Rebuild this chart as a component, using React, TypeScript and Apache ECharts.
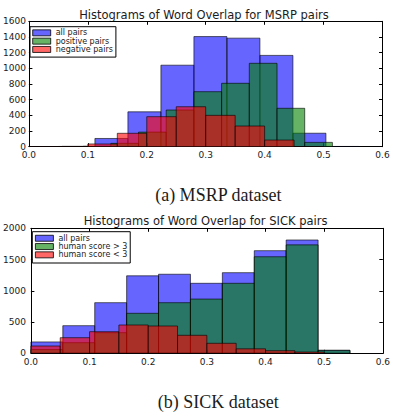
import React, { useEffect, useRef } from "react";
import * as echarts from "echarts";

// MSRP: word-overlap histograms (bin edges + counts per bin)
const msrpAllEdges = [0, 0.056, 0.112, 0.168, 0.224, 0.28, 0.336, 0.392, 0.448, 0.504, 0.56];
const msrpAllCounts = [2, 4, 105, 445, 1040, 1405, 1385, 1165, 172, 3];
const msrpPosEdges = [0.045, 0.092, 0.139, 0.186, 0.233, 0.28, 0.327, 0.374, 0.421, 0.468, 0.515];
const msrpPosCounts = [1, 5, 43, 186, 468, 702, 809, 1064, 490, 55];
const msrpNegEdges = [0, 0.05, 0.1, 0.15, 0.2, 0.25, 0.3, 0.35, 0.4, 0.45, 0.5];
const msrpNegCounts = [1, 3, 35, 171, 383, 510, 400, 264, 85, 2];

// SICK: word-overlap histograms
const sickAllEdges = [0, 0.0544, 0.1088, 0.1632, 0.2176, 0.272, 0.3264, 0.3808, 0.4352, 0.4896, 0.544];
const sickAllCounts = [182, 442, 810, 1240, 1265, 1120, 1290, 1642, 1813, 50];
const sickHighEdges = [0, 0.0544, 0.1088, 0.1632, 0.2176, 0.272, 0.3264, 0.3808, 0.4352, 0.4896, 0.544];
const sickHighCounts = [60, 170, 330, 640, 810, 868, 1120, 1545, 1735, 45];
const sickLowEdges = [0, 0.05, 0.1, 0.15, 0.2, 0.25, 0.3, 0.35, 0.4, 0.45, 0.5];
const sickLowCounts = [117, 250, 346, 453, 437, 288, 160, 72, 42, 21];

const msrpLegend = ["all pairs", "positive pairs", "negative pairs"];
const sickLegend = ["all pairs", "human score > 3", "human score < 3"];

const msrpTitle = "Histograms of Word Overlap for MSRP pairs";
const sickTitle = "Histograms of Word Overlap for SICK pairs";
const msrpCaption = "(a) MSRP dataset";
const sickCaption = "(b) SICK dataset";

const BLUE = "rgba(0,0,255,0.6)";
const GREEN = "rgba(0,128,0,0.6)";
const RED = "rgba(255,0,0,0.6)";
const EDGE = "rgba(0,0,0,0.6)";
const INK = "#1c1c1c";
const SANS = "DejaVu Sans";
const SERIF = "Liberation Serif";

function histSeries(name: string, edges: number[], counts: number[], fill: string, xIdx: number, yIdx: number) {
  return {
    type: "custom",
    name,
    xAxisIndex: xIdx,
    yAxisIndex: yIdx,
    clip: true,
    itemStyle: { color: fill, borderColor: EDGE, borderWidth: 1 },
    encode: { x: [0, 1], y: 2 },
    data: counts.map((c, i) => [edges[i], edges[i + 1], c]),
    renderItem: (_params: any, api: any) => {
      const tl = api.coord([api.value(0), api.value(2)]);
      const br = api.coord([api.value(1), 0]);
      return {
        type: "rect",
        shape: { x: tl[0], y: tl[1], width: br[0] - tl[0], height: br[1] - tl[1] },
        style: { fill, stroke: EDGE, lineWidth: 1 },
      };
    },
  };
}

function xAxes(grid: number) {
  const base = {
    type: "value",
    gridIndex: grid,
    min: 0,
    max: 0.6,
    interval: 0.1,
    splitLine: { show: false },
    axisLine: { show: true, onZero: false, lineStyle: { color: "#000", width: 1 } },
    axisTick: { show: true, inside: true, length: 3.5, lineStyle: { color: "#000" } },
  };
  return [
    {
      ...base,
      position: "bottom",
      axisLabel: {
        show: true,
        margin: 4,
        color: INK,
        fontFamily: SANS,
        fontSize: 9,
        formatter: (v: number) => v.toFixed(1),
      },
    },
    { ...base, position: "top", axisLabel: { show: false } },
  ];
}

function yAxes(grid: number, max: number, interval: number, margin: number) {
  const base = {
    type: "value",
    gridIndex: grid,
    min: 0,
    max,
    interval,
    splitLine: { show: false },
    axisLine: { show: true, onZero: false, lineStyle: { color: "#000", width: 1 } },
    axisTick: { show: true, inside: true, length: 3.5, lineStyle: { color: "#000" } },
  };
  return [
    {
      ...base,
      position: "left",
      axisLabel: {
        show: true,
        margin,
        color: INK,
        fontFamily: SANS,
        fontSize: 9,
        formatter: (v: number) => String(v),
      },
    },
    { ...base, position: "right", axisLabel: { show: false } },
  ];
}

function legendFor(names: string[], colors: string[], left: number, top: number, padding: number[]) {
  return {
    orient: "vertical",
    left,
    top,
    padding,
    itemGap: 0,
    itemWidth: 18,
    itemHeight: 6,
    icon: "rect",
    selectedMode: false,
    borderColor: "#000",
    borderWidth: 1,
    backgroundColor: "#fff",
    textStyle: { fontFamily: SANS, fontSize: 8, color: INK, lineHeight: 8.3 },
    data: names.map((n, i) => ({
      name: n,
      itemStyle: { color: colors[i], borderColor: "#000", borderWidth: 0.8 },
    })),
  };
}

export default function App() {
  const ref = useRef<HTMLDivElement>(null);

  useEffect(() => {
    if (!ref.current) return;
    const chart = echarts.init(ref.current, undefined, { renderer: "svg" });
    chart.setOption({
      animation: false,
      backgroundColor: "#fff",
      grid: [
        { left: 25.5, top: 21.3, width: 357, height: 125.4 },
        { left: 28.3, top: 228.3, width: 354.7, height: 125 },
      ],
      xAxis: [...xAxes(0), ...xAxes(1)],
      yAxis: [...yAxes(0, 1600, 200, 3), ...yAxes(1, 2000, 500, 5)],
      legend: [
        legendFor(msrpLegend, [BLUE, GREEN, RED], 30, 26.7, [2, 3, 3.5, 2.3]),
        legendFor(sickLegend, [BLUE, GREEN, RED], 32.3, 231.7, [2.4, 3, 4, 2.7]),
      ],
      series: [
        histSeries(msrpLegend[0], msrpAllEdges, msrpAllCounts, BLUE, 0, 0),
        histSeries(msrpLegend[1], msrpPosEdges, msrpPosCounts, GREEN, 0, 0),
        histSeries(msrpLegend[2], msrpNegEdges, msrpNegCounts, RED, 0, 0),
        histSeries(sickLegend[0], sickAllEdges, sickAllCounts, BLUE, 2, 2),
        histSeries(sickLegend[1], sickHighEdges, sickHighCounts, GREEN, 2, 2),
        histSeries(sickLegend[2], sickLowEdges, sickLowCounts, RED, 2, 2),
      ],
      graphic: [
        {
          type: "text",
          x: 204,
          y: 14.5,
          style: { text: msrpTitle, fill: INK, font: `11.5px "${SANS}"`, align: "center", verticalAlign: "middle" },
        },
        {
          type: "text",
          x: 205.5,
          y: 220.5,
          style: { text: sickTitle, fill: INK, font: `11.5px "${SANS}"`, align: "center", verticalAlign: "middle" },
        },
        {
          type: "text",
          x: 218.3,
          y: 194.5,
          style: { text: msrpCaption, fill: INK, font: `18px "${SERIF}"`, align: "center", verticalAlign: "middle" },
        },
        {
          type: "text",
          x: 218.3,
          y: 402,
          style: { text: sickCaption, fill: INK, font: `18px "${SERIF}"`, align: "center", verticalAlign: "middle" },
        },
      ],
    });
    return () => chart.dispose();
  }, []);

  return (
    <div
      ref={ref}
      style={{ position: "absolute", left: 0, top: 0, width: 393, height: 417, background: "#fff" }}
    />
  );
}
